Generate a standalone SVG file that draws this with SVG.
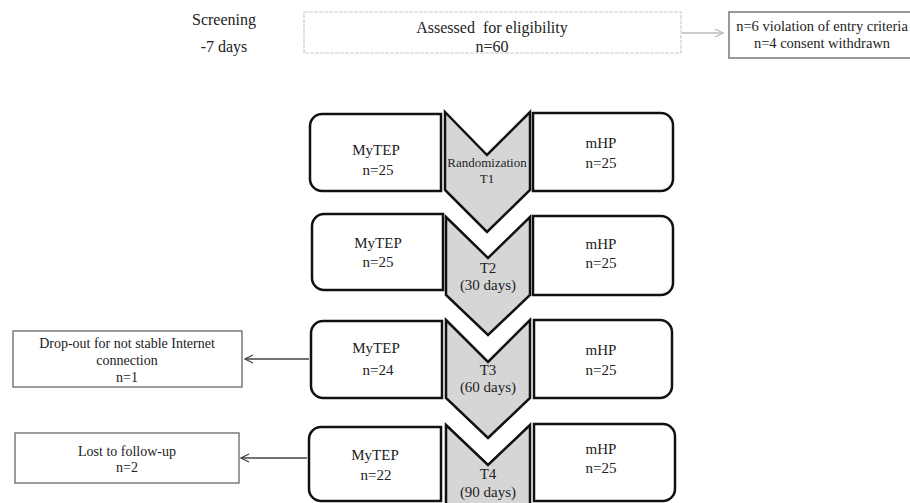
<svg xmlns="http://www.w3.org/2000/svg" width="910" height="503" viewBox="0 0 910 503">
<defs>
<style>
text{font-family:"Liberation Serif","Times New Roman",serif;fill:#222;text-anchor:middle}
.t16{font-size:16px}
.t15{font-size:15px}
.t14{font-size:14px}
.t13{font-size:13px}
.box{fill:#fff;stroke:#111;stroke-width:2.5}
.chev{fill:#d6d6d6;stroke:#111;stroke-width:2.5;stroke-linejoin:miter}
.side{fill:#fff;stroke:#666;stroke-width:1.3}
.conn{fill:none;stroke:#444;stroke-width:1.3}
.connl{fill:none;stroke:#bbb;stroke-width:1.3}
</style>
<marker id="ah" viewBox="0 0 10 10" refX="9" refY="5" markerWidth="10" markerHeight="10" markerUnits="userSpaceOnUse" orient="auto">
<path d="M1,1 L9,5 L1,9" fill="none" stroke="#444" stroke-width="1.3"/>
</marker>
<marker id="ahl" viewBox="0 0 10 10" refX="9" refY="5" markerWidth="10" markerHeight="10" markerUnits="userSpaceOnUse" orient="auto">
<path d="M1,1 L9,5 L1,9" fill="none" stroke="#bbb" stroke-width="1.3"/>
</marker>
</defs>
<rect width="910" height="503" fill="#fff"/>

<g id="screening">
<text class="t16" x="224" y="25">Screening</text>
<text class="t16" x="224" y="52">-7 days</text>
</g>

<g id="assessed">
<rect x="304" y="12" width="377" height="41" fill="#fff" stroke="#ccc" stroke-width="1.2" stroke-dasharray="4 1"/>
<text class="t16" x="492" y="33" xml:space="preserve">Assessed  for eligibility</text>
<text class="t16" x="492" y="52">n=60</text>
</g>

<g id="excluded">
<rect x="729" y="12" width="190" height="46" fill="#fff" stroke="#999" stroke-width="2"/>
<text x="822" y="31" style="font-size:14.5px">n=6 violation of entry criteria</text>
<text x="822" y="48" style="font-size:14.5px">n=4 consent withdrawn</text>
</g>

<g id="chevron-t1">
<polygon class="chev" points="445,112 487,155 530,112 530,190 487,232 445,190"/>
<text class="t13" x="487" y="167">Randomization</text>
<text class="t13" x="487" y="183">T1</text>
</g>
<g id="chevron-t2">
<polygon class="chev" points="446,217 488,258 530,217 530,295 488,335 446,295"/>
<text class="t15" x="488" y="273">T2</text>
<text class="t15" x="488" y="290">(30 days)</text>
</g>
<g id="chevron-t3">
<polygon class="chev" points="446,320 488,362 530,320 530,398 488,438 446,398"/>
<text class="t15" x="488" y="375">T3</text>
<text class="t15" x="488" y="392">(60 days)</text>
</g>
<g id="chevron-t4">
<polygon class="chev" points="446,425 488,465 530,425 530,515 446,515"/>
<text class="t15" x="488" y="479">T4</text>
<text class="t15" x="488" y="497">(90 days)</text>
</g>

<g id="mytep-t1">
<path class="box" d="M441 114 H322 A12 12 0 0 0 310 126 V179 A12 12 0 0 0 322 191 H441 Z"/>
<text class="t15" x="376" y="155">MyTEP</text>
<text class="t15" x="378" y="175">n=25</text>
</g>
<g id="mhp-t1">
<path class="box" d="M533 113 H661 A12 12 0 0 1 673 125 V179 A12 12 0 0 1 661 191 H533 Z"/>
<text class="t15" x="601" y="148">mHP</text>
<text class="t15" x="601" y="168">n=25</text>
</g>

<g id="mytep-t2">
<path class="box" d="M443 214 H324 A12 12 0 0 0 312 226 V278 A12 12 0 0 0 324 290 H443 Z"/>
<text class="t15" x="378" y="248">MyTEP</text>
<text class="t15" x="378" y="267">n=25</text>
</g>
<g id="mhp-t2">
<path class="box" d="M533 216 H661 A12 12 0 0 1 673 228 V283 A12 12 0 0 1 661 295 H533 Z"/>
<text class="t15" x="601" y="249">mHP</text>
<text class="t15" x="601" y="268">n=25</text>
</g>

<g id="mytep-t3">
<path class="box" d="M442 321 H323 A12 12 0 0 0 311 333 V386 A12 12 0 0 0 323 398 H442 Z"/>
<text class="t15" x="376" y="353">MyTEP</text>
<text class="t15" x="378" y="375">n=24</text>
</g>
<g id="mhp-t3">
<path class="box" d="M534 320 H660 A12 12 0 0 1 672 332 V386 A12 12 0 0 1 660 398 H534 Z"/>
<text class="t15" x="601" y="355">mHP</text>
<text class="t15" x="601" y="375">n=25</text>
</g>

<g id="mytep-t4">
<path class="box" d="M441 427 H321 A12 12 0 0 0 309 439 V489 A12 12 0 0 0 321 501 H441 Z"/>
<text class="t15" x="375" y="460">MyTEP</text>
<text class="t15" x="376" y="480">n=22</text>
</g>
<g id="mhp-t4">
<path class="box" d="M534 424 H663 A12 12 0 0 1 675 436 V489 A12 12 0 0 1 663 501 H534 Z"/>
<text class="t15" x="601" y="454">mHP</text>
<text class="t15" x="601" y="473">n=25</text>
</g>

<g id="dropout">
<rect class="side" x="13" y="331" width="229" height="56"/>
<text class="t14" x="127" y="348">Drop-out for not stable Internet</text>
<text class="t14" x="127" y="365">connection</text>
<text class="t14" x="127" y="382">n=1</text>
</g>
<g id="lost">
<rect class="side" x="15" y="433" width="224" height="50"/>
<text class="t14" x="127" y="456">Lost to follow-up</text>
<text class="t14" x="127" y="472">n=2</text>
</g>

<g id="connectors">
<line class="connl" x1="682" y1="33" x2="723" y2="33" marker-end="url(#ahl)"/>
<line class="conn" x1="309" y1="359" x2="245" y2="359" marker-end="url(#ah)"/>
<line class="conn" x1="307" y1="458" x2="241" y2="458" marker-end="url(#ah)"/>
</g>
</svg>
